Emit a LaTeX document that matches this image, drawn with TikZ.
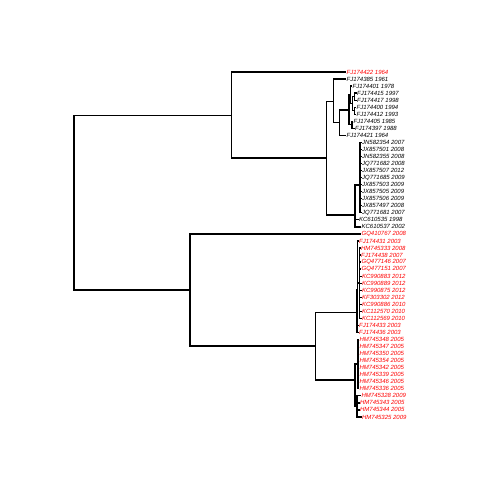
\documentclass[tikz,border=0pt]{standalone}
\usepackage{fontspec}
\setsansfont{Liberation Sans}
\usepackage{tikz}

\begin{document}
\begin{tikzpicture}[
    x=1pt, y=-1pt,
    tip/.style={anchor=west, inner sep=0.6pt, outer sep=0pt, font=\sffamily\itshape\fontsize{6}{6}\selectfont},
    branch/.style={line width=1.3pt, line join=miter}
]
    \useasboundingbox (0,0) rectangle (504,504);

    \foreach \lab/\x/\col [count=\i] in {
        FJ174422 1964/346/red, FJ174385 1961/346/black, FJ174401 1978/352/black,
        FJ174415 1997/356.5/black, FJ174417 1998/356.5/black, FJ174400 1994/356/black,
        FJ174412 1993/356/black, FJ174405 1985/353/black, FJ174397 1988/354.5/black,
        FJ174421 1964/346/black, JN582354 2007/361.5/black, JX857501 2008/361.5/black,
        JN582355 2008/361.5/black, JQ771682 2008/361.5/black, JX857507 2012/361.5/black,
        JQ771685 2009/361.5/black, JX857503 2009/361.5/black, JX857505 2009/361.5/black,
        JX857506 2009/361.5/black, JX857497 2008/361.5/black, JQ771681 2007/361.5/black,
        KC610535 1998/358.5/black, KC610537 2002/361/black, GQ410767 2008/361/red,
        FJ174431 2003/358.5/red, HM745333 2008/360.5/red, FJ174438 2007/360.5/red,
        GQ477146 2007/361/red, GQ477151 2007/361/red, KC990883 2012/361.5/red,
        KC990889 2012/361.5/red, KC990875 2012/361.5/red, KF303302 2012/361.5/red,
        KC990886 2010/361.5/red, KC112570 2010/361.5/red, KC112569 2010/361.5/red,
        FJ174433 2003/358.5/red, FJ174436 2003/358.5/red, HM745348 2005/359/red,
        HM745347 2005/359/red, HM745350 2005/359/red, HM745354 2005/359/red,
        HM745342 2005/359/red, HM745339 2005/359/red, HM745346 2005/359/red,
        HM745336 2005/359/red, HM745328 2009/361/red, HM745343 2005/359.5/red,
        HM745344 2005/359.5/red, HM745325 2009/361.5/red}
        \node[tip, text=\col] (t\i) at (\x,{72+(\i-1)*7.04}) {\lab};

    \coordinate (root) at (74,203);
    \coordinate (a) at (231.7,115.7);
    \coordinate (b) at (326.7,158);
    \coordinate (c) at (333.3,101.7);
    \coordinate (d) at (339.3,122.7);
    \coordinate (e) at (349,110);
    \coordinate (f) at (350.5,94.9);
    \coordinate (i) at (352.5,103.7);
    \coordinate (j) at (354.5,96.7);
    \coordinate (k) at (354.5,110.7);
    \coordinate (h) at (352,124.8);
    \coordinate (g) at (355,215);
    \coordinate (m) at (360,185);
    \coordinate (n) at (190,290);
    \coordinate (o) at (315.3,346);
    \coordinate (p) at (357,312.7);
    \coordinate (q) at (357.8,290);
    \coordinate (s) at (359.5,283);
    \coordinate (r) at (355,380);
    \coordinate (u) at (358,364);
    \coordinate (v) at (357,406);

    \draw[branch] (root) |- (a);
    \draw[branch] (root) |- (n);
    \draw[branch] (a) |- (t1.west);
    \draw[branch] (a) |- (b);
    \draw[branch] (b) |- (c);
    \draw[branch] (b) |- (g);
    \draw[branch] (c) |- (t2.west);
    \draw[branch] (c) |- (d);
    \draw[branch] (d) |- (e);
    \draw[branch] (d) |- (t10.west);
    \draw[branch] (e) |- (f);
    \draw[branch] (e) |- (h);
    \draw[branch] (f) |- (t3.west);
    \draw[branch] (f) |- (i);
    \draw[branch] (i) |- (j);
    \draw[branch] (i) |- (k);
    \draw[branch] (j) |- (t4.west);
    \draw[branch] (j) |- (t5.west);
    \draw[branch] (k) |- (t6.west);
    \draw[branch] (k) |- (t7.west);
    \draw[branch] (h) |- (t8.west);
    \draw[branch] (h) |- (t9.west);
    \draw[branch] (g) |- (m);
    \draw[branch] (g) |- (t22.west);
    \draw[branch] (g) |- (t23.west);
    \foreach \c in {11,...,21}
        \draw[branch] (m) |- (t\c.west);

    \draw[branch] (n) |- (t24.west);
    \draw[branch] (n) |- (o);
    \draw[branch] (o) |- (p);
    \draw[branch] (o) |- (r);
    \draw[branch] (p) |- (q);
    \draw[branch] (p) |- (t38.west);
    \draw[branch] (q) |- (t25.west);
    \draw[branch] (q) |- (s);
    \draw[branch] (q) |- (t37.west);
    \foreach \c in {26,...,36}
        \draw[branch] (s) |- (t\c.west);
    \draw[branch] (r) |- (u);
    \draw[branch] (r) |- (v);
    \foreach \c in {39,...,46}
        \draw[branch] (u) |- (t\c.west);
    \foreach \c in {47,...,50}
        \draw[branch] (v) |- (t\c.west);
\end{tikzpicture}
\end{document}
